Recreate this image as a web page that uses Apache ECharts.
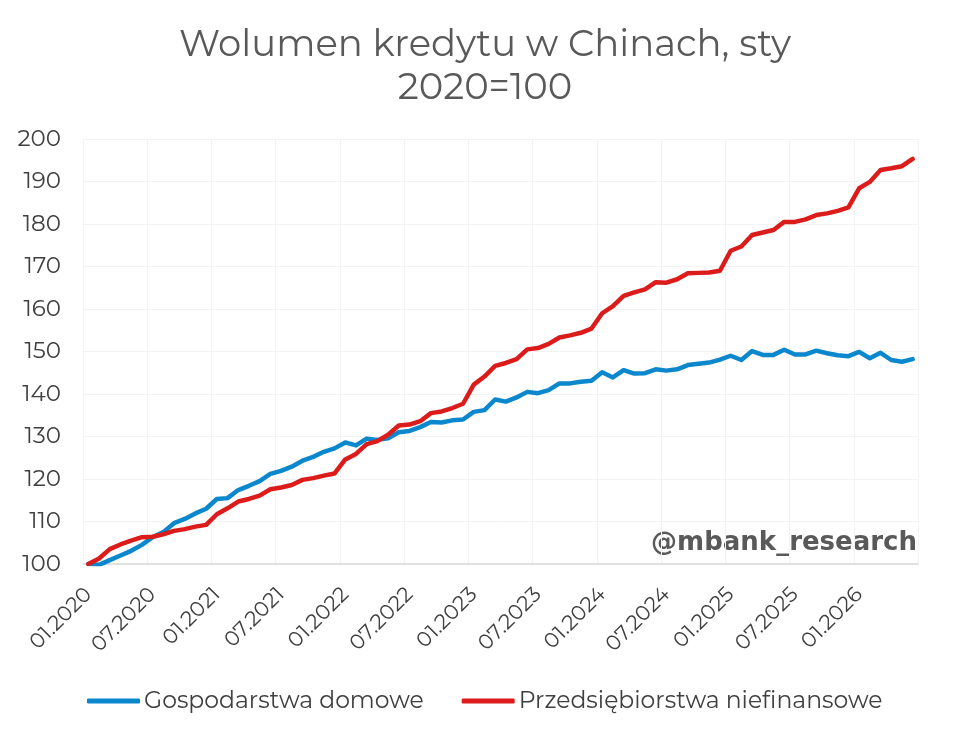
<!DOCTYPE html>
<html>
<head>
<meta charset="utf-8">
<script src="https://cdn.jsdelivr.net/npm/echarts@6/dist/echarts.min.js"></script>
<style>
  html, body { margin: 0; padding: 0; background: #fff; }
  #chart { width: 960px; height: 738px; }
</style>
</head>
<body>
<div id="chart"></div>
<script>
// monthly, 01.2020 .. 06.2026
const months = [
  '01.2020','02.2020','03.2020','04.2020','05.2020','06.2020','07.2020','08.2020','09.2020','10.2020','11.2020','12.2020',
  '01.2021','02.2021','03.2021','04.2021','05.2021','06.2021','07.2021','08.2021','09.2021','10.2021','11.2021','12.2021',
  '01.2022','02.2022','03.2022','04.2022','05.2022','06.2022','07.2022','08.2022','09.2022','10.2022','11.2022','12.2022',
  '01.2023','02.2023','03.2023','04.2023','05.2023','06.2023','07.2023','08.2023','09.2023','10.2023','11.2023','12.2023',
  '01.2024','02.2024','03.2024','04.2024','05.2024','06.2024','07.2024','08.2024','09.2024','10.2024','11.2024','12.2024',
  '01.2025','02.2025','03.2025','04.2025','05.2025','06.2025','07.2025','08.2025','09.2025','10.2025','11.2025','12.2025',
  '01.2026','02.2026','03.2026','04.2026','05.2026','06.2026'
];

const households = [
  100.0, 99.8, 100.9, 102.0, 103.1, 104.5, 106.3, 107.5, 109.6, 110.6, 111.9, 113.0,
  115.3, 115.5, 117.4, 118.4, 119.5, 121.2, 121.9, 122.9, 124.3, 125.2, 126.4, 127.2,
  128.6, 127.9, 129.5, 129.2, 129.6, 131.0, 131.3, 132.2, 133.4, 133.3, 133.8, 134.0,
  135.8, 136.2, 138.7, 138.2, 139.2, 140.5, 140.2, 140.9, 142.5, 142.5, 142.9, 143.1,
  145.1, 143.9, 145.6, 144.8, 144.9, 145.8, 145.5, 145.8, 146.8, 147.1, 147.4, 148.1,
  149.0, 148.0, 150.1, 149.2, 149.2, 150.4, 149.3, 149.3, 150.2, 149.6, 149.1, 148.9,
  149.9, 148.4, 149.7, 148.0, 147.6, 148.2
];

const corporates = [
  100.0, 101.3, 103.5, 104.6, 105.5, 106.3, 106.4, 107.0, 107.8, 108.2, 108.8, 109.2,
  111.7, 113.1, 114.7, 115.3, 116.1, 117.6, 118.0, 118.6, 119.8, 120.2, 120.8, 121.3,
  124.6, 125.9, 128.2, 128.9, 130.4, 132.6, 132.8, 133.6, 135.5, 135.9, 136.7, 137.7,
  142.2, 144.1, 146.6, 147.3, 148.2, 150.5, 150.8, 151.8, 153.3, 153.8, 154.4, 155.4,
  159.0, 160.7, 163.1, 163.9, 164.6, 166.3, 166.2, 167.0, 168.4, 168.5, 168.6, 169.0,
  173.7, 174.7, 177.4, 178.0, 178.6, 180.5, 180.5, 181.1, 182.1, 182.5, 183.1, 183.9,
  188.4, 189.9, 192.7, 193.1, 193.6, 195.3
];

const FONT = "Montserrat, 'Noto Sans', sans-serif";
const chart = echarts.init(document.getElementById('chart'));

chart.setOption({
  animation: false,
  backgroundColor: '#fff',
  title: {
    text: 'Wolumen kredytu w Chinach, sty\n2020=100',
    left: 480,
    textAlign: 'center',
    top: 19,
    textStyle: { fontFamily: FONT, fontWeight: 'normal', fontSize: 37, lineHeight: 43, color: '#595959' }
  },
  grid: { left: 83, right: 42, top: 139, bottom: 174 },
  legend: {
    bottom: 20,
    left: 82,
    icon: 'roundRect',
    itemWidth: 53,
    itemHeight: 5,
    itemGap: 38,
    textStyle: { fontFamily: FONT, fontSize: 23.5, color: '#404040', padding: [0, 0, 0, -1] },
    data: ['Gospodarstwa domowe', 'Przedsiębiorstwa niefinansowe']
  },
  xAxis: {
    type: 'category',
    data: months,
    boundaryGap: true,
    axisLine: { lineStyle: { color: '#d9d9d9', width: 1.5 } },
    axisTick: { interval: 5, length: 7, lineStyle: { color: '#d9d9d9', width: 1.5 } },
    axisLabel: { interval: 5, rotate: 45, margin: 27, fontFamily: FONT, fontSize: 21, color: '#404040' },
    splitLine: { show: true, interval: 5, lineStyle: { color: '#f3f3f3' } }
  },
  yAxis: {
    type: 'value',
    min: 100,
    max: 200,
    interval: 10,
    axisLine: { show: false },
    axisTick: { show: false },
    axisLabel: { margin: 22, fontFamily: FONT, fontSize: 23, color: '#404040' },
    splitLine: { lineStyle: { color: '#f3f3f3' } }
  },
  graphic: [{
    type: 'text',
    right: 43,
    top: 530,
    style: { text: '@mbank_research', font: "bold 26px 'DejaVu Sans', Verdana, sans-serif", fill: '#595959' }
  }],
  series: [
    {
      name: 'Gospodarstwa domowe',
      type: 'line',
      data: households,
      showSymbol: false,
      lineStyle: { width: 4.5, color: '#0a87cd', cap: 'round', join: 'round' },
      itemStyle: { color: '#0a87cd' }
    },
    {
      name: 'Przedsiębiorstwa niefinansowe',
      type: 'line',
      data: corporates,
      showSymbol: false,
      lineStyle: { width: 4.5, color: '#dc1b1b', cap: 'round', join: 'round' },
      itemStyle: { color: '#dc1b1b' }
    }
  ]
});
</script>
</body>
</html>
